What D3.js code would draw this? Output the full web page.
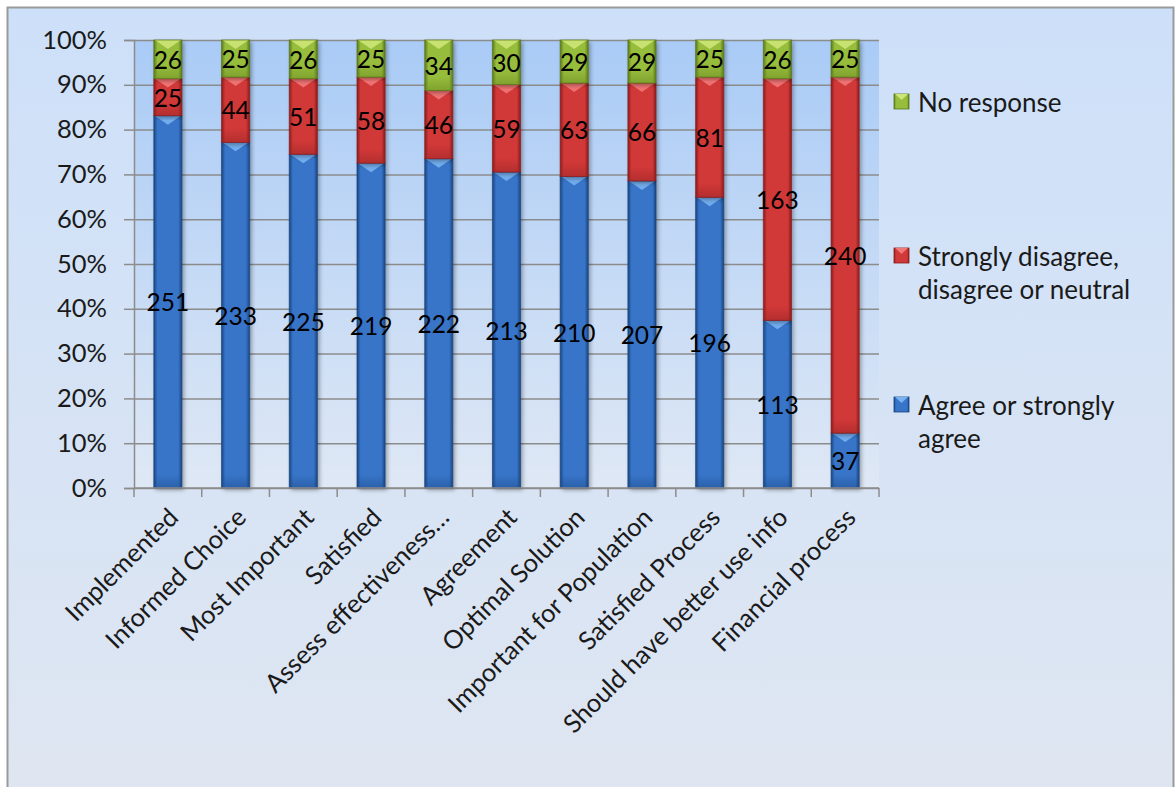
<!DOCTYPE html>
<html>
<head>
<meta charset="utf-8">
<script src="https://cdnjs.cloudflare.com/ajax/libs/d3/7.8.5/d3.min.js"></script>
<style>
  html, body { margin: 0; padding: 0; background: #ffffff; }
  svg { display: block; font-family: Lato, "Open Sans", sans-serif; }
</style>
</head>
<body>
<svg id="chart" width="1175" height="787"></svg>
<script>
// Survey responses per statement (counts)
const categories = [
  "Implemented", "Informed Choice", "Most Important", "Satisfied",
  "Assess effectiveness\u2026", "Agreement", "Optimal Solution",
  "Important for Population", "Satisfied Process",
  "Should have better use info", "Financial process"
];
const agree    = [251, 233, 225, 219, 222, 213, 210, 207, 196, 113, 37];
const disagree = [25, 44, 51, 58, 46, 59, 63, 66, 81, 163, 240];
const noResp   = [26, 25, 26, 25, 34, 30, 29, 29, 25, 26, 25];

const seriesNames = ["Agree or strongly agree", "Strongly disagree, disagree or neutral", "No response"];
const yTickValues = [0, 0.1, 0.2, 0.3, 0.4, 0.5, 0.6, 0.7, 0.8, 0.9, 1.0];

const palette = {
  agree:    { dark: "#1a4580", mid: "#3775c9", light: "#79b2f0", bottom: "#1c4a88" },
  disagree: { dark: "#8a1c1c", mid: "#d13838", light: "#ef7878", bottom: "#962424" },
  noResp:   { dark: "#5a7818", mid: "#97bd3c", light: "#cde678", bottom: "#66861e" }
};
const keys = ["agree", "disagree", "noResp"];

const svg = d3.select("#chart");
const plot = { left: 134, right: 879, top: 40, bottom: 488 };

const defs = svg.append("defs");

// Background gradients
const bgGrad = defs.append("linearGradient").attr("id", "bgGrad")
  .attr("x1", 0).attr("y1", 0).attr("x2", 0).attr("y2", 1);
bgGrad.append("stop").attr("offset", "0%").attr("stop-color", "#cde0f9");
bgGrad.append("stop").attr("offset", "100%").attr("stop-color", "#dfe6f1");

const plotGrad = defs.append("linearGradient").attr("id", "plotGrad")
  .attr("x1", 0).attr("y1", 0).attr("x2", 0).attr("y2", 1);
plotGrad.append("stop").attr("offset", "0%").attr("stop-color", "#a9cbf6");
plotGrad.append("stop").attr("offset", "100%").attr("stop-color", "#dfe8f5");

// Cylinder-like horizontal shading for each series
keys.forEach(k => {
  const g = defs.append("linearGradient").attr("id", "grad-" + k)
    .attr("x1", 0).attr("y1", 0).attr("x2", 1).attr("y2", 0);
  g.append("stop").attr("offset", "0%").attr("stop-color", palette[k].dark);
  g.append("stop").attr("offset", "13%").attr("stop-color", palette[k].mid);
  g.append("stop").attr("offset", "50%").attr("stop-color", palette[k].mid);
  g.append("stop").attr("offset", "87%").attr("stop-color", palette[k].mid);
  g.append("stop").attr("offset", "100%").attr("stop-color", palette[k].dark);
  const b = defs.append("linearGradient").attr("id", "bot-" + k)
    .attr("x1", 0).attr("y1", 0).attr("x2", 0).attr("y2", 1);
  b.append("stop").attr("offset", "0%").attr("stop-color", palette[k].bottom).attr("stop-opacity", 0);
  b.append("stop").attr("offset", "100%").attr("stop-color", palette[k].bottom).attr("stop-opacity", 0.8);
});

const shadow = defs.append("filter").attr("id", "shadow")
  .attr("x", "-30%").attr("y", "-5%").attr("width", "160%").attr("height", "115%");
shadow.append("feDropShadow").attr("dx", 2).attr("dy", 2).attr("stdDeviation", 2)
  .attr("flood-color", "#000").attr("flood-opacity", 0.35);

// Chart area
svg.append("rect").attr("x", 7.5).attr("y", 7.5).attr("width", 1166).attr("height", 800)
  .attr("fill", "url(#bgGrad)").attr("stroke", "#9a9a9a").attr("stroke-width", 2);

svg.append("rect").attr("x", plot.left).attr("y", plot.top)
  .attr("width", plot.right - plot.left).attr("height", plot.bottom - plot.top)
  .attr("fill", "url(#plotGrad)");

// Scales
const x = d3.scaleBand().domain(categories).range([plot.left, plot.right]).padding(0);
const y = d3.scaleLinear().domain([0, 1]).range([plot.bottom, plot.top]);
const barW = x.bandwidth() * 0.415;

// Gridlines
svg.append("g").attr("transform", `translate(${plot.left},0)`)
  .call(d3.axisLeft(y).tickValues(yTickValues).tickSize(-(plot.right - plot.left)).tickFormat(""))
  .call(g => g.select(".domain").remove())
  .call(g => g.selectAll("line").attr("stroke", "#8c8c8c").attr("stroke-width", 1.5));

const bounds = categories.map(c => x(c)).concat([plot.right]);

// Y axis
svg.append("g").attr("transform", `translate(${plot.left},0)`)
  .call(d3.axisLeft(y).tickValues(yTickValues).tickSize(10).tickPadding(17).tickFormat(d3.format(".0%")))
  .call(g => g.select(".domain").attr("stroke", "#8c8c8c").attr("stroke-width", 1.5))
  .call(g => g.selectAll(".tick line").attr("stroke", "#8c8c8c").attr("stroke-width", 1.5))
  .call(g => g.selectAll("text").attr("fill", "#1a1a1a").style("font-size", "25.5px")
    .style("font-family", "Lato, 'Open Sans', sans-serif"));

// Stack to percentages
const rows = categories.map((c, i) => {
  const tot = agree[i] + disagree[i] + noResp[i];
  return { cat: c, agree: agree[i] / tot, disagree: disagree[i] / tot, noResp: noResp[i] / tot,
           counts: { agree: agree[i], disagree: disagree[i], noResp: noResp[i] } };
});
const stack = d3.stack().keys(keys)(rows);

// Bars
const barG = svg.append("g");
stack.forEach(layer => {
  const k = layer.key;
  layer.forEach(d => {
    const cx = x(d.data.cat) + x.bandwidth() / 2;
    const x0 = cx - barW / 2;
    const yTop = y(d[1]), yBot = y(d[0]);
    const h = yBot - yTop;
    const g = barG.append("g");
    g.append("rect").attr("x", x0).attr("y", yTop).attr("width", barW).attr("height", h)
      .attr("fill", "url(#grad-" + k + ")").attr("filter", "url(#shadow)");
    // darker lower edge
    const bh = Math.min(14, h * 0.4);
    g.append("rect").attr("x", x0).attr("y", yBot - bh).attr("width", barW).attr("height", bh)
      .attr("fill", "url(#bot-" + k + ")").attr("opacity", 0.6);
    // light bevel at the top face
    const th = Math.min(9, h * 0.5);
    g.append("path")
      .attr("d", `M${x0 + 1},${yTop} L${x0 + barW - 1},${yTop} L${cx},${yTop + th} Z`)
      .attr("fill", palette[k].light).attr("opacity", 0.9);
    g.append("rect").attr("x", x0).attr("y", yTop).attr("width", barW).attr("height", h)
      .attr("fill", "none").attr("stroke", palette[k].dark).attr("stroke-width", 1).attr("opacity", 0.7);
  });
});

// Data labels
stack.forEach(layer => {
  const k = layer.key;
  layer.forEach(d => {
    const cx = x(d.data.cat) + x.bandwidth() / 2;
    svg.append("text")
      .attr("x", cx).attr("y", (y(d[0]) + y(d[1])) / 2)
      .attr("text-anchor", "middle").attr("dominant-baseline", "central")
      .attr("fill", "#000").style("font-size", "24.5px")
      .text(d.data.counts[k]);
  });
});

// X axis line and ticks
svg.append("line").attr("x1", plot.left).attr("x2", plot.right)
  .attr("y1", plot.bottom).attr("y2", plot.bottom)
  .attr("stroke", "#8c8c8c").attr("stroke-width", 1.5);
svg.append("g").selectAll("line").data(bounds).join("line")
  .attr("x1", d => d).attr("x2", d => d)
  .attr("y1", plot.bottom).attr("y2", plot.bottom + 9)
  .attr("stroke", "#8c8c8c").attr("stroke-width", 1.5);

// Category labels
svg.append("g").selectAll("text").data(categories).join("text")
  .attr("transform", c => `translate(${x(c) + x.bandwidth() / 2 + 5},${plot.bottom + 24}) rotate(-45)`)
  .attr("text-anchor", "end").attr("dominant-baseline", "central")
  .attr("fill", "#1a1a1a").style("font-size", "25.5px")
  .text(c => c);

// Legend
const legendItems = [
  { key: "noResp", lines: ["No response"], y: 102 },
  { key: "disagree", lines: ["Strongly disagree,", "disagree or neutral"], y: 256 },
  { key: "agree", lines: ["Agree or strongly", "agree"], y: 405 }
];
const lg = svg.append("g");
legendItems.forEach(it => {
  const mx = 894, my = it.y - 8, ms = 15;
  lg.append("rect").attr("x", mx).attr("y", my).attr("width", ms).attr("height", ms)
    .attr("fill", "url(#grad-" + it.key + ")").attr("stroke", palette[it.key].dark).attr("stroke-width", 0.8);
  lg.append("path").attr("d", `M${mx + 1},${my} L${mx + ms - 1},${my} L${mx + ms / 2},${my + 6} Z`)
    .attr("fill", palette[it.key].light);
  it.lines.forEach((t, i) => {
    lg.append("text").attr("x", 918).attr("y", it.y + i * 33)
      .attr("dominant-baseline", "central").attr("fill", "#1a1a1a")
      .style("font-size", "26px").text(t);
  });
});
</script>
</body>
</html>
